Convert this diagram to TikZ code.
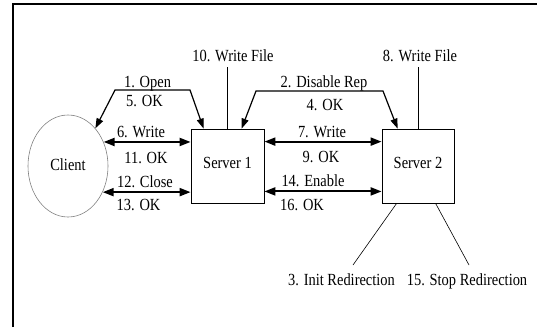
\documentclass[tikz,border=0pt]{standalone}
\usepackage{fontspec}
\setmainfont{Liberation Serif}[FakeStretch=0.85]
\usetikzlibrary{arrows.meta,shapes.geometric}
\begin{document}
\begin{tikzpicture}[x=1pt,y=-1pt,
  font=\fontsize{17}{20}\selectfont,
  box/.style={draw, line width=0.8pt, minimum width=73pt, minimum height=74pt,
    inner sep=0pt, text height=11pt, text depth=6pt},
  lbl/.style={anchor=base, inner sep=0pt},
  msg/.style={line width=2pt,
    {Triangle[length=11pt,width=8pt]}-{Triangle[length=11pt,width=8pt]}},
  bent/.style={line width=1.2pt,
    {Triangle[length=10pt,width=7pt]}-{Triangle[length=10pt,width=7pt]}},
  thinline/.style={line width=0.6pt}]
\useasboundingbox (0,0) rectangle (537,327);

% frame: left and top edges only
\draw[line width=2pt] (13,327) -- (13,4) -- (537,4);

% participants
\node[ellipse, draw=gray, line width=0.6pt, minimum width=80pt, minimum height=102pt,
  inner sep=0pt, text height=12pt, text depth=4pt] (client) at (68,166) {Client};
\node[box] (s1) at (227.5,166) {Server 1};
\node[box, minimum width=72pt] (s2) at (418,166) {Server 2};

% client <-> server 1
\draw[msg] (client.34) -- (client.34 -| s1.west);
\draw[msg] (client.-37) -- (client.-37 -| s1.west);

% server 1 <-> server 2
\draw[msg] ([yshift=-13pt]s1.north east) -- ([yshift=-13pt]s2.north west);
\draw[msg] ([yshift=12pt]s1.south east) -- ([yshift=12pt]s2.south west);

% open / ok exchange over the top
\coordinate (o1) at (115,90);
\coordinate (o2) at (190,90);
\draw[bent] (client.54) -- (o1) -- (o2) -- ([xshift=13pt]s1.north west);

% disable replication exchange over the top
\coordinate (d1) at (256,91);
\coordinate (d2) at (383,91);
\draw[bent] ([xshift=51pt]s1.north west) -- (d1) -- (d2) -- ([xshift=16pt]s2.north west);

% file writes
\coordinate (wf1foot) at (227.5,67);
\coordinate (wf2foot) at (418,67);
\draw[thinline] (s1.north) -- (wf1foot);
\draw[thinline] (s2.north) -- (wf2foot);

% redirection events
\coordinate (ir) at (353,265);
\coordinate (sr) at (469,265);
\draw[thinline] ([xshift=15pt]s2.south west) -- (ir);
\draw[thinline] ([xshift=54pt]s2.south west) -- (sr);

% labels
\node[lbl] (l1)  at (147.5,87)  {1. Open};
\node[lbl] (l5)  at (144.5,106) {5. OK};
\node[lbl] (l6)  at (141,137)   {6. Write};
\node[lbl] (l11) at (146,163)   {11. OK};
\node[lbl] (l12) at (145,187)   {12. Close};
\node[lbl] (l13) at (138.5,210) {13. OK};
\node[lbl] (l10) at (233,61)    {10. Write File};
\node[lbl] (l2)  at (324,87)    {2. Disable Rep};
\node[lbl] (l4)  at (325,110.5) {4. OK};
\node[lbl] (l7)  at (322,137)   {7. Write};
\node[lbl] (l9)  at (321,162)   {9. OK};
\node[lbl] (l14) at (313,186)   {14. Enable};
\node[lbl] (l16) at (302,210)   {16. OK};
\node[lbl] (l8)  at (420,61)    {8. Write File};
\node[lbl] (l3)  at (341.5,285) {3. Init Redirection};
\node[lbl] (l15) at (467,285)   {15. Stop Redirection};
\end{tikzpicture}
\end{document}
